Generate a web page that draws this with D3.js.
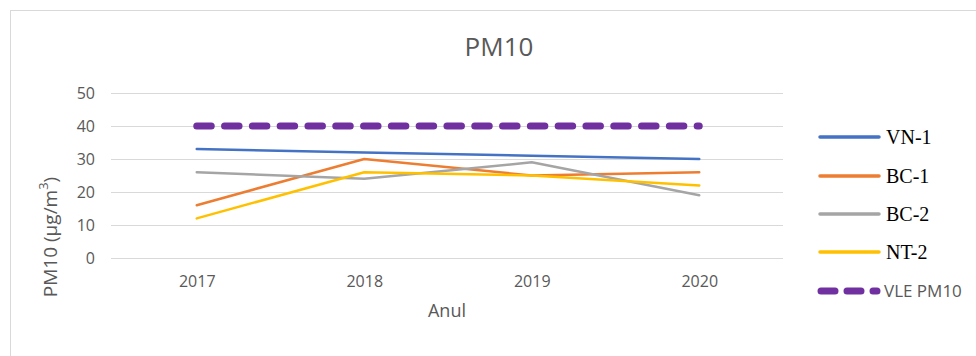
<!DOCTYPE html>
<html>
<head>
<meta charset="utf-8">
<script src="https://cdn.jsdelivr.net/npm/d3@7"></script>
<style>
  html, body { margin: 0; padding: 0; background: #fff; }
  svg { display: block; }
</style>
</head>
<body>
<svg id="chart" width="976" height="356"></svg>
<script>
// Annual PM10 concentrations by station
const years = ["2017", "2018", "2019", "2020"];
const vn1 = [33, 32, 31, 30];
const bc1 = [16, 30, 25, 26];
const bc2 = [26, 24, 29, 19];
const nt2 = [12, 26, 25, 22];
const vlePm10 = [40, 40, 40, 40];
const yTicks = [0, 10, 20, 30, 40, 50];

const series = [
  { name: "VN-1", values: vn1, color: "#4472C4" },
  { name: "BC-1", values: bc1, color: "#ED7D31" },
  { name: "BC-2", values: bc2, color: "#A5A5A5" },
  { name: "NT-2", values: nt2, color: "#FFC000" },
  { name: "VLE PM10", values: vlePm10, color: "#7030A0", dashed: true }
];

const svg = d3.select("#chart");
const W = 976, H = 356;
const plot = { left: 113, right: 783, top: 93, bottom: 258 };
const sans = "Open Sans, sans-serif";

// chart frame
svg.append("rect")
  .attr("x", 10.5).attr("y", 10.5)
  .attr("width", W - 10).attr("height", H)
  .attr("fill", "#fff").attr("stroke", "#d9d9d9").attr("stroke-width", 1);

const x = d3.scalePoint().domain(years).range([plot.left, plot.right]).padding(0.5);
const y = d3.scaleLinear().domain([0, 50]).range([plot.bottom, plot.top]);

// horizontal gridlines
svg.append("g").selectAll("line").data(yTicks).join("line")
  .attr("x1", 111).attr("x2", plot.right)
  .attr("y1", d => Math.round(y(d)) + 0.5).attr("y2", d => Math.round(y(d)) + 0.5)
  .attr("stroke", "#d9d9d9").attr("stroke-width", 1);

// y axis labels
const yAxis = d3.axisLeft(y).tickValues(yTicks).tickSize(0).tickPadding(0);
const gy = svg.append("g").attr("transform", "translate(95,0)").call(yAxis);
gy.select(".domain").remove();
gy.selectAll("text")
  .attr("fill", "#595959").attr("font-family", sans).attr("font-size", 16);

// x axis labels
const xAxis = d3.axisBottom(x).tickSize(0).tickPadding(0);
const gx = svg.append("g").attr("transform", `translate(0,${plot.bottom + 18})`).call(xAxis);
gx.select(".domain").remove();
gx.selectAll("text")
  .attr("fill", "#595959").attr("font-family", sans).attr("font-size", 16);

// title
svg.append("text")
  .attr("x", 499).attr("y", 56).attr("text-anchor", "middle")
  .attr("fill", "#595959").attr("font-family", sans).attr("font-size", 26)
  .text("PM10");

// axis titles
const yTitle = svg.append("text")
  .attr("transform", "translate(57,237) rotate(-90)")
  .attr("text-anchor", "middle")
  .attr("fill", "#595959").attr("font-family", sans).attr("font-size", 19);
yTitle.append("tspan").text("PM10 (µg/m");
yTitle.append("tspan").attr("baseline-shift", "super").attr("font-size", 13).text("3");
yTitle.append("tspan").text(")");

svg.append("text")
  .attr("x", 447).attr("y", 317).attr("text-anchor", "middle")
  .attr("fill", "#595959").attr("font-family", sans).attr("font-size", 18)
  .text("Anul");

// series lines
const line = d3.line().x((d, i) => x(years[i])).y(d => y(d));
const lines = [...series.filter(s => !s.dashed), ...series.filter(s => s.dashed)];
svg.append("g").selectAll("path").data(lines).join("path")
  .attr("d", s => line(s.values))
  .attr("fill", "none")
  .attr("stroke", s => s.color)
  .attr("stroke-width", s => s.dashed ? 7 : 2.5)
  .attr("stroke-linecap", "round")
  .attr("stroke-linejoin", "round")
  .attr("stroke-dasharray", s => s.dashed ? "14.5 13.3" : null);

// legend
const legendRows = [137, 176, 214, 252, 291];
const lg = svg.append("g");
series.forEach((s, i) => {
  const ly = legendRows[i];
  lg.append("line")
    .attr("x1", s.dashed ? 821 : 820).attr("x2", s.dashed ? 877 : 879)
    .attr("y1", ly).attr("y2", ly)
    .attr("stroke", s.color)
    .attr("stroke-width", s.dashed ? 7 : 3.5)
    .attr("stroke-linecap", "round")
    .attr("stroke-dasharray", s.dashed ? "14 12" : null);
  lg.append("text")
    .attr("x", s.dashed ? 884 : 886).attr("y", ly)
    .attr("dy", "0.35em")
    .attr("fill", s.dashed ? "#595959" : "#000")
    .attr("font-family", s.dashed ? sans : "Liberation Serif, serif")
    .attr("font-size", s.dashed ? 17 : 20)
    .text(s.name);
});
</script>
</body>
</html>
